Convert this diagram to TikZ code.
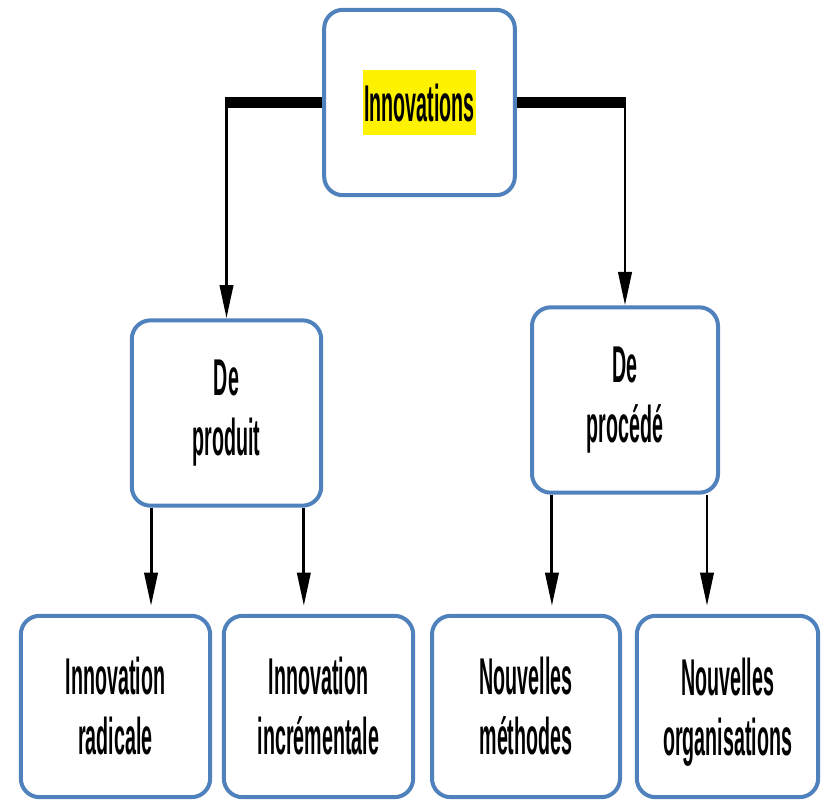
\documentclass[tikz,border=0pt]{standalone}
\usepackage{fontspec}
\newfontfamily\boxfont{Liberation Sans}[FakeStretch=0.38]
\usepackage{xcolor}
\definecolor{BoxBlue}{RGB}{79,129,189}
\usetikzlibrary{arrows.meta, positioning}

\begin{document}
\begin{tikzpicture}[
        x=0.75pt, y=-0.75pt,
        level/.style={rectangle, rounded corners=14pt, draw=BoxBlue, line width=3pt, fill=white, align=center, font=\boxfont\bfseries\fontsize{38.8pt}{45pt}\selectfont, minimum width=142pt, minimum height=139pt, inner sep=0pt},
        leaf/.style={level, minimum height=136pt},
        link/.style={line width=2.2pt, -{Triangle[length=25pt, width=10pt]}},
        bar/.style={line width=8pt}
    ]
        \useasboundingbox (0,0) rectangle (824,802);

        \node[level, minimum width=143pt] (inno) at (419.5,102.5) {\setlength\fboxsep{0.75pt}\colorbox{yellow}{\rule[-9pt]{0pt}{47pt}Innovations}};
        \node[level] (prod) at (226.5,413) {De\\produit};
        \node[level, minimum width=139.5pt] (proc) at (625,400) {De\\procédé};

        \node[leaf] (rad) at (115.5,706.5) {Innovation\\radicale};
        \node[leaf] (incr) at (318.5,706.5) {Innovation\\incrémentale};
        \node[leaf, minimum width=141pt] (meth) at (526,706.5) {Nouvelles\\méthodes};
        \node[leaf, minimum width=136pt] (orga) at (727.5,706.5) {Nouvelles\\\raisebox{0pt}[\height][0pt]{organisations}};

        % top level
        \coordinate (cl) at (inno.west -| prod.north);
        \coordinate (cr) at (inno.east -| proc.north);
        \draw[bar] (inno.west) -- ([xshift=-1pt]cl);
        \draw[bar] (inno.east) -- ([xshift=1pt]cr);
        \draw[link] (cl) -- (prod.north);
        \draw[link] (cr) -- (proc.north);

        % second level
        \draw[link, shorten >=6pt] ([xshift=-56.6pt]prod.south) -- ([xshift=-56.6pt]prod.south |- rad.north);
        \draw[link, shorten >=6pt] ([xshift=58pt]prod.south) -- ([xshift=58pt]prod.south |- incr.north);
        \draw[link, shorten >=6pt] ([xshift=-54.8pt]proc.south) -- ([xshift=-54.8pt]proc.south |- meth.north);
        \draw[link, shorten >=6pt] ([xshift=61.5pt]proc.south) -- ([xshift=61.5pt]proc.south |- orga.north);
    \end{tikzpicture}
\end{document}
